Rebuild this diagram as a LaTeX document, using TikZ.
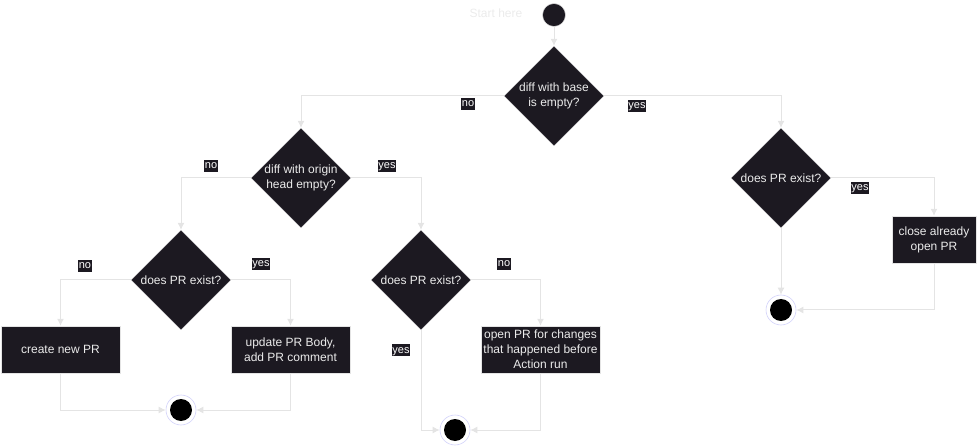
\documentclass[tikz,border=0pt]{standalone}
\usepackage{fontspec}
\setmainfont{Liberation Sans}
\usetikzlibrary{shapes.geometric,arrows.meta}
\definecolor{nodebg}{RGB}{28,25,33}
\definecolor{linec}{RGB}{228,228,228}
\definecolor{ringc}{RGB}{210,210,250}
\begin{document}
\begin{tikzpicture}[x=1pt,y=-1pt,
  dia/.style={diamond,fill=nodebg,draw=linec,line width=0.3pt,minimum width=100pt,minimum height=100pt,inner sep=0pt},
  txt/.style={text=white!92!black,font=\fontsize{12}{15}\selectfont,align=center,inner sep=0pt},
  actbox/.style={rectangle,fill=nodebg,draw=linec,line width=0.4pt,minimum width=119pt,minimum height=47pt,inner sep=1pt,text=white!92!black,font=\fontsize{12}{15}\selectfont,align=center},
  lbl/.style={fill=nodebg,text=white,font=\fontsize{11}{12}\selectfont,inner xsep=0.6pt,inner ysep=0.8pt,text height=8.5pt,text depth=2.5pt},
  conn/.style={draw=linec,line width=1pt,-{Latex[length=7pt,width=7pt]}},
  endc/.style={circle,draw=ringc,line width=0.6pt,fill=white,minimum size=30pt,inner sep=0pt,
    path picture={\fill[black] (path picture bounding box.center) circle (11pt);}},
  startc/.style={circle,fill=nodebg,draw=linec,line width=0.5pt,minimum size=23pt,inner sep=0pt}]
\useasboundingbox (0,0) rectangle (977,446);

\node[text=white!92!black,font=\fontsize{12}{15}\selectfont] (st) at (496,13) {Start here};
\node[startc] (start) at (554,15) {};

\node[dia] (d1) at (554,96) {};
\node[txt] (t1) at (d1) {diff with base\\is empty?};
\node[dia] (d2) at (301,178) {};
\node[txt] (t2) at (d2) {diff with origin\\head empty?};
\node[dia] (d3) at (781,178) {};
\node[txt] (t3) at (d3) {does PR exist?};
\node[dia] (d4) at (181,280) {};
\node[txt] (t4) at (d4) {does PR exist?};
\node[dia] (d5) at (421,280) {};
\node[txt] (t5) at (d5) {does PR exist?};

\node[actbox] (b1) at (60.5,349.5) {create new PR};
\node[actbox] (b2) at (290.5,349.5) {update PR Body,\\add PR comment};
\node[actbox] (b3) at (540.5,349.5) {open PR for changes\\that happened before\\Action run};
\node[actbox,minimum width=84pt] (b4) at (934,239.5) {close already\\open PR};

\node[endc] (e1) at (181,410) {};
\node[endc] (e2) at (455,430) {};
\node[endc] (e3) at (781,310) {};

\draw[conn] (start) -- (d1);
\draw[conn] (d1.west) -| (d2.north);
\draw[conn] (d1.east) -| (d3.north);
\draw[conn] (d2.west) -| (d4.north);
\draw[conn] (d2.east) -| (d5.north);
\draw[conn] (d4.west) -| (b1.north);
\draw[conn] (d4.east) -| (b2.north);
\draw[conn] (b1.south) |- (e1);
\draw[conn] (b2.south) |- (e1);
\draw[conn] (d5.east) -| (b3.north);
\draw[conn] (d5.south) |- (e2);
\draw[conn] (b3.south) |- (e2);
\draw[conn] (d3.east) -| (b4.north);
\draw[conn] (d3.south) -- (e3);
\draw[conn] (b4.south) |- (e3);

\node[lbl] (l1) at (468,104) {no};
\node[lbl] (l2) at (637,106) {yes};
\node[lbl] (l3) at (211,166) {no};
\node[lbl] (l4) at (387,166) {yes};
\node[lbl] (l5) at (85,266) {no};
\node[lbl] (l6) at (261,264) {yes};
\node[lbl] (l7) at (504,264) {no};
\node[lbl] (l8) at (401,350) {yes};
\node[lbl] (l9) at (860,188) {yes};
\end{tikzpicture}
\end{document}
